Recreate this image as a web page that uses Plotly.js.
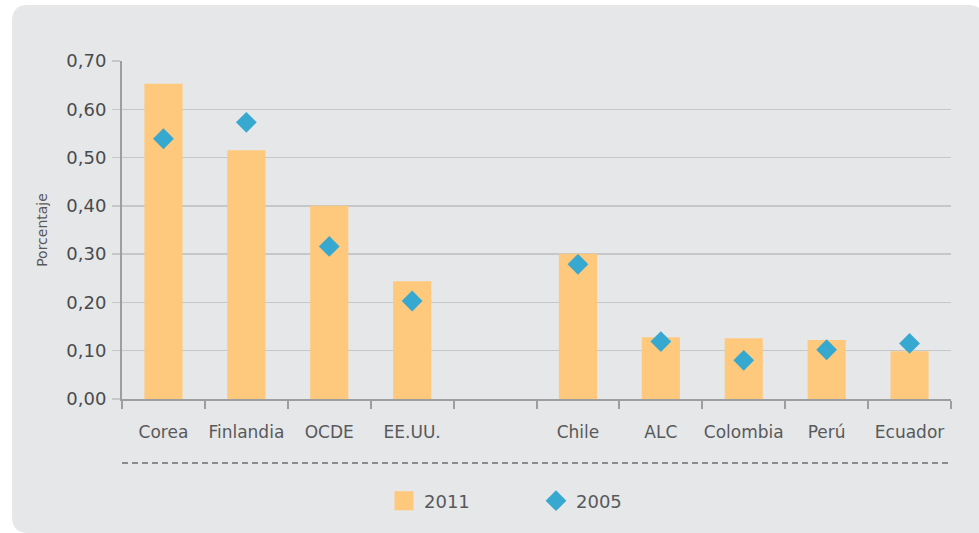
<!DOCTYPE html>
<html>
<head>
<meta charset="utf-8">
<script src="https://cdn.plot.ly/plotly-3.0.1.min.js"></script>
<style>
  html, body { margin: 0; padding: 0; background: #ffffff; }
  #chart { width: 979px; height: 533px; }
</style>
</head>
<body>
<div id="chart"></div>
<script>
// ---- data ----
var categories = ["Corea", "Finlandia", "OCDE", "EE.UU.", " ", "Chile", "ALC", "Colombia", "Perú", "Ecuador"];
var values2011 = [0.653, 0.515, 0.400, 0.244, null, 0.301, 0.128, 0.126, 0.122, 0.099];
var values2005 = [0.539, 0.573, 0.316, 0.203, null, 0.279, 0.119, 0.080, 0.102, 0.115];
var seriesNames = ["2011", "2005"];
var yTitle = "Porcentaje";

// ---- geometry helpers (pixel -> paper) ----
var W = 979, H = 533;
var mL = 122, mR = 28, mT = 61, mB = 134;
var pw = W - mL - mR, ph = H - mT - mB;
function px(x) { return (x - mL) / pw; }
function py(y) { return (H - mB - y) / ph; }

// rounded panel path (paper coords)
var L = px(12), R = px(984), T = py(5), B = py(533);
var rx = 16 / pw, ry = 16 / ph;
var panelPath = "M" + (L + rx) + "," + T +
  " L" + (R - rx) + "," + T +
  " Q" + R + "," + T + " " + R + "," + (T - ry) +
  " L" + R + "," + B +
  " L" + (L + rx) + "," + B +
  " Q" + L + "," + B + " " + L + "," + (B + ry) +
  " L" + L + "," + (T - ry) +
  " Q" + L + "," + T + " " + (L + rx) + "," + T + " Z";

var textColor = "#58595b";
var fontFam = "DejaVu Sans, sans-serif";

var traces = [
  {
    type: "bar",
    name: seriesNames[0],
    x: categories,
    y: values2011,
    marker: { color: "#fec97d" },
    hoverinfo: "x+y"
  },
  {
    type: "scatter",
    mode: "markers",
    name: seriesNames[1],
    x: categories,
    y: values2005,
    marker: { symbol: "diamond", size: 16, color: "#37a9d0" },
    hoverinfo: "x+y"
  }
];

var layout = {
  width: W,
  height: H,
  margin: { l: mL, r: mR, t: mT, b: mB, pad: 0 },
  paper_bgcolor: "#ffffff",
  plot_bgcolor: "rgba(0,0,0,0)",
  separators: ",.",
  bargap: 0.54,
  showlegend: true,
  font: { family: fontFam, color: textColor },
  xaxis: {
    type: "category",
    range: [-0.5, 9.5],
    showgrid: false,
    showline: true,
    linecolor: "#9d9ea0",
    linewidth: 2,
    ticks: "outside",
    tickson: "boundaries",
    ticklen: 8,
    tickwidth: 2,
    tickcolor: "#9d9ea0",
    tickangle: 0,
    ticklabelstandoff: 17,
    tickfont: { family: fontFam, size: 17, color: textColor },
    fixedrange: true
  },
  yaxis: {
    range: [0, 0.70],
    dtick: 0.1,
    tick0: 0,
    tickformat: ".2f",
    showgrid: true,
    gridcolor: "#c6c7c9",
    gridwidth: 1.5,
    zeroline: false,
    showline: true,
    linecolor: "#9d9ea0",
    linewidth: 2,
    ticks: "outside",
    ticklen: 8,
    tickwidth: 1.5,
    tickcolor: "#c6c7c9",
    ticklabelstandoff: 2,
    tickfont: { family: fontFam, size: 18, color: "#4a4b4d" },
    title: { text: yTitle, standoff: 15, font: { family: fontFam, size: 14, color: textColor } },
    automargin: false,
    fixedrange: true
  },
  legend: {
    orientation: "h",
    x: px(384),
    xanchor: "left",
    y: py(501),
    yanchor: "middle",
    bgcolor: "rgba(0,0,0,0)",
    font: { family: fontFam, size: 18, color: textColor },
    entrywidth: 107,
    entrywidthmode: "pixels",
    traceorder: "normal"
  },
  shapes: [
    {
      type: "path",
      xref: "paper", yref: "paper",
      path: panelPath,
      fillcolor: "#e6e7e9",
      line: { width: 0 },
      layer: "below"
    },
    {
      type: "line",
      xref: "paper", yref: "paper",
      x0: 0, x1: 1,
      y0: py(463), y1: py(463),
      line: { color: "#6d6e70", width: 1.3, dash: "6px,4px" }
    }
  ]
};

function enlargeBarLegendSwatch() {
  var groups = document.querySelectorAll("#chart .legend .traces");
  if (!groups.length) return;
  var paths = groups[0].querySelectorAll(".legendpoints path");
  paths.forEach(function (p) { p.setAttribute("d", "M9.5,9.5H-9.5V-9.5H9.5Z"); });
}

Plotly.newPlot("chart", traces, layout, { displayModeBar: false, staticPlot: true })
  .then(enlargeBarLegendSwatch);
</script>
</body>
</html>
